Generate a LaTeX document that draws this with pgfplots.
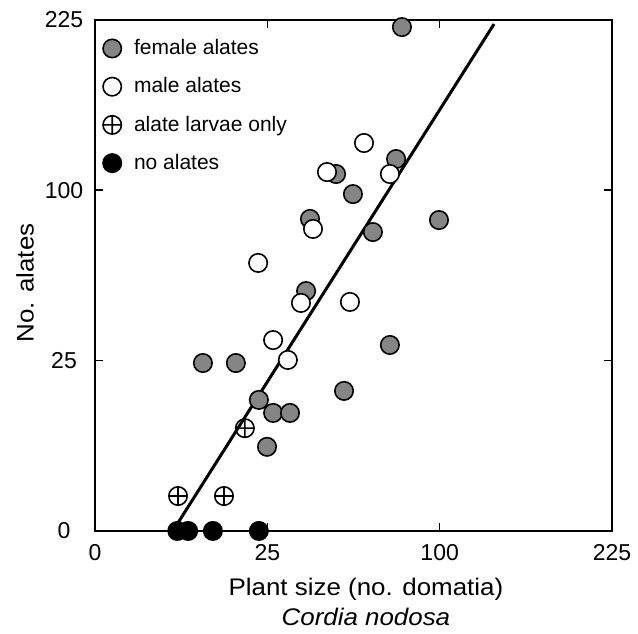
\documentclass[border=0pt]{standalone}
\usepackage{fontspec}
\setmainfont{Liberation Sans}
\newfontfamily\widefont[FakeStretch=1.08]{Liberation Sans}
\usepackage{pgfplots}
\pgfplotsset{compat=1.18}
\definecolor{femgray}{gray}{0.52}
\begin{document}
\begin{tikzpicture}
\begin{axis}[
  scale only axis, width=258.5pt, height=255.5pt,
  x coord trafo/.code={\pgfmathparse{sqrt(#1)}},
  x coord inv trafo/.code={\pgfmathparse{(#1)^2}},
  y coord trafo/.code={\pgfmathparse{sqrt(#1)}},
  y coord inv trafo/.code={\pgfmathparse{(#1)^2}},
  xmin=0, xmax=225, ymin=0, ymax=225,
  xtick={0,25,100,225}, xticklabels={0,25,100,225},
  ytick={0,25,100,225}, yticklabels={0,25,100,225},
  tick align=inside, tick pos=both, major tick length=4pt,
  axis line style={line width=0.9pt},
  every tick/.style={black, line width=0.8pt},
  /pgf/number format/assume math mode=true,
  xticklabel style={font=\fontsize{11.5}{13}\selectfont, yshift=-3.2pt},
  yticklabel style={font=\fontsize{11.5}{13}\selectfont, anchor=center, xshift=-15.5pt},
  xlabel={Plant size (no. domatia)\\\textit{Cordia nodosa}},
  xlabel style={align=center, font=\widefont\fontsize{12}{15}\selectfont,
    at={([yshift=-20pt]axis description cs:0.524,0)}, anchor=north},
  ylabel={No. alates},
  ylabel style={font=\widefont\fontsize{12}{14}\selectfont,
    at={([xshift=-35pt]axis description cs:0,0.485)}, anchor=center},
  clip=false,
  legend style={at={([xshift=3pt,yshift=-7.5pt]axis description cs:0,1)}, anchor=north west,
    draw=none, fill=none, font=\fontsize{10.5}{12}\selectfont, row sep=6pt,
    inner xsep=0pt, inner ysep=0pt},
  legend cell align=left,
  legend image code/.code={\draw[#1] plot coordinates {(0pt,0pt)}; \path (-5.2pt,0pt) (8.7pt,0pt);},
]
% female alates
\addplot[only marks, mark=*, mark size=4.6pt, mark options={fill=femgray, draw=black, line width=0.8pt}]
  coordinates {
  (79.3,218.8) (76.3,119.2) (48.9,109.8) (56.0,97.8) (38.9,83.9) (65.0,77.0)
  (99.6,83.3) (37.5,49.6) (73.2,29.8) (9.8,24.3) (16.7,24.3) (22.6,14.8)
  (26.7,12.0) (32.0,12.0) (24.9,6.1) (52.2,16.9)
  };
\addlegendentry{female alates}
% male alates
\addplot[only marks, mark=*, mark size=4.6pt, mark options={fill=white, draw=black, line width=0.8pt}]
  coordinates {
  (60.9,129.7) (73.2,109.8) (45.3,111.0) (40.0,78.6) (22.4,61.9) (35.7,44.8)
  (54.7,45.2) (26.7,31.4) (31.3,25.2)
  };
\addlegendentry{male alates}
% alate larvae only
\addplot[only marks, mark=oplus, mark size=4.6pt, mark options={fill=white, draw=black, line width=0.8pt}]
  coordinates {
  (18.9,9.1) (5.8,1.05) (14.0,1.05)
  };
\addlegendentry{alate larvae only}
% no alates
\addplot[only marks, mark=*, mark size=4.6pt, mark options={fill=black, draw=black, line width=0.8pt}]
  coordinates {
  (5.7,0) (7.3,0) (11.7,0) (22.6,0)
  };
\addlegendentry{no alates}
% regression line
\addplot[forget plot, no marks, line width=1.5pt] coordinates {(5.1,0) (134,221.4)};
\path (axis description cs:-0.1838,-0.2016) rectangle (axis description cs:1.0503,1.0391);
\end{axis}
\end{tikzpicture}
\end{document}
